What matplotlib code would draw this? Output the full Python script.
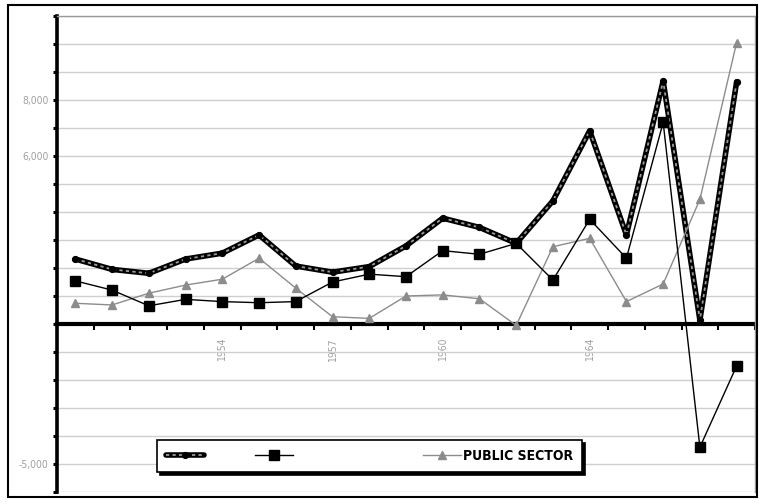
import matplotlib
matplotlib.use("Agg")
import matplotlib.pyplot as plt
from matplotlib.patches import Rectangle
from matplotlib.ticker import FixedLocator, FixedFormatter, NullFormatter
from matplotlib.legend_handler import HandlerTuple

# Annual values, 1950-1968
years = [str(y) for y in range(1950, 1969)]
total = [2320, 1950, 1810, 2320, 2530, 3180, 2070, 1850, 2050, 2790, 3780, 3450,
         2880, 4400, 6900, 3180, 8680, 140, 8650]
private = [1540, 1210, 650, 880, 800, 760, 800, 1500, 1780, 1690, 2620, 2490,
           2880, 1570, 3740, 2350, 7200, -4400, -1500]
public_sector = [740, 680, 1100, 1390, 1600, 2350, 1280, 260, 200, 1000, 1040, 900,
                 -50, 2760, 3060, 800, 1430, 4450, 10050]

labelled_years = ["1954", "1957", "1960", "1964"]
y_tick_values = list(range(-6000, 11001, 1000))
y_tick_text = {8000: "8,000", 6000: "6,000", -5000: "-5,000"}

fig = plt.figure(figsize=(7.63, 5.04), dpi=100)
ax = fig.add_axes([57 / 763, 12 / 504, 698 / 763, 476 / 504])

x = list(range(len(years)))

# thick black line with grey stripes for the total
total_base, = ax.plot(x, total, color="black", lw=4.0, solid_joinstyle="round",
                      solid_capstyle="round", zorder=3)
total_stripe, = ax.plot(x, total, color="#9a9a9a", lw=1.3,
                        linestyle=(0, (1.8, 1.8)), zorder=3.2)
total_pts, = ax.plot(x, total, linestyle="none", marker="o", ms=4.2,
                     mfc="black", mec="black", zorder=3.5)
public_line, = ax.plot(x, public_sector, color="#8c8c8c", lw=1.0, marker="^", ms=5.5,
                       mfc="#8c8c8c", mec="#8c8c8c", zorder=4)
private_line, = ax.plot(x, private, color="black", lw=1.0, marker="s", ms=6.5,
                        mfc="black", mec="black", zorder=5)

ax.set_xlim(-0.5, len(years) - 0.5)
ax.set_ylim(-6000, 11000)

# horizontal gridlines
ax.yaxis.set_major_locator(FixedLocator(y_tick_values))
ax.yaxis.set_major_formatter(FixedFormatter([y_tick_text.get(v, "") for v in y_tick_values]))
ax.grid(axis="y", color="#cfcfcf", lw=1.0, zorder=0)
ax.grid(axis="x", visible=False)

# spines
ax.spines["left"].set_linewidth(2.6)
ax.spines["left"].set_color("black")
ax.spines["bottom"].set_position(("data", 0))
ax.spines["bottom"].set_linewidth(3.0)
ax.spines["bottom"].set_color("black")
ax.spines["bottom"].set_zorder(2)
ax.spines["top"].set_color("#9a9a9a")
ax.spines["right"].set_color("#9a9a9a")
ax.spines["top"].set_linewidth(1.0)
ax.spines["right"].set_linewidth(1.0)

# x ticks: marks at category boundaries, labels at category centres
bounds = [i - 0.5 for i in range(len(years) + 1)]
ax.xaxis.set_major_locator(FixedLocator(bounds))
ax.xaxis.set_major_formatter(NullFormatter())
ax.xaxis.set_minor_locator(FixedLocator(x))
ax.xaxis.set_minor_formatter(FixedFormatter([y if y in labelled_years else "" for y in years]))
ax.tick_params(axis="x", which="major", direction="out", length=4, width=1.5, color="black")
ax.tick_params(axis="x", which="minor", length=0, pad=10, labelsize=7.5,
               labelcolor="#a0a0a0", labelrotation=90)
ax.tick_params(axis="y", which="major", direction="out", length=3, width=2.2,
               color="black", labelsize=7.5, labelcolor="#a0a0a0", pad=3)
for lbl in ax.get_xticklabels(minor=True) + ax.get_yticklabels():
    lbl.set_fontstretch("condensed")

leg = ax.legend([(total_base, total_stripe, total_pts), private_line, public_line],
                [" " * 8, " " * 26, "PUBLIC SECTOR"],
                handler_map={tuple: HandlerTuple(ndivide=1)},
                ncol=3, loc="lower left", bbox_to_anchor=(100 / 698, 20 / 476),
                borderaxespad=0.0,
                frameon=True, fancybox=False, handlelength=2.7, handletextpad=0.2,
                columnspacing=1.0, borderpad=0.65,
                shadow={"color": "black", "alpha": 1.0},
                prop={"family": "DejaVu Sans", "stretch": "condensed",
                      "weight": "bold", "size": 10})
leg.get_frame().set_edgecolor("black")
leg.get_frame().set_linewidth(1.2)
leg.set_zorder(10)

# outer border around the whole chart
fig.patches.append(Rectangle((8 / 763, 7 / 504), 749 / 763, 492 / 504,
                             transform=fig.transFigure, fill=False,
                             edgecolor="black", lw=1.5))

fig.savefig("out.png", dpi=100)
